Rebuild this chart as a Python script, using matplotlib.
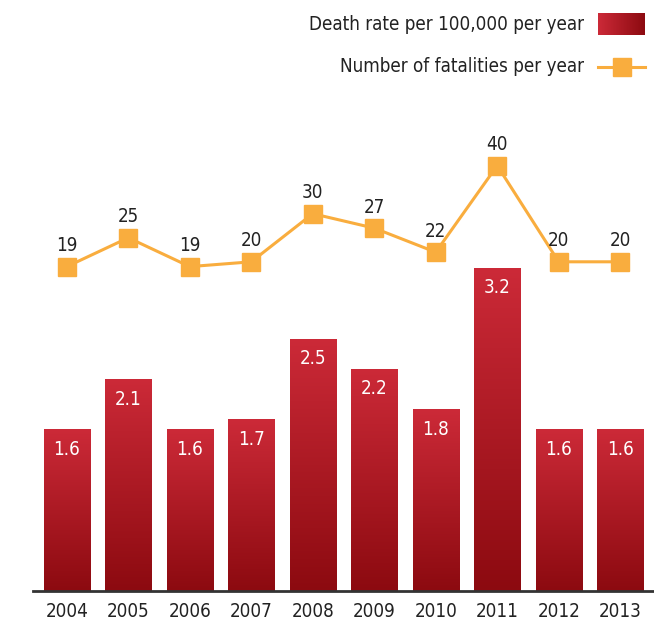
import numpy as np
import matplotlib
matplotlib.use("Agg")
import matplotlib.pyplot as plt
from matplotlib.colors import LinearSegmentedColormap
from matplotlib.lines import Line2D

years = ["2004", "2005", "2006", "2007", "2008", "2009", "2010", "2011", "2012", "2013"]
death_rate = [1.6, 2.1, 1.6, 1.7, 2.5, 2.2, 1.8, 3.2, 1.6, 1.6]
fatalities = [19, 25, 19, 20, 30, 27, 22, 40, 20, 20]

plt.rcParams['font.family'] = ['DejaVu Sans']
plt.rcParams['font.stretch'] = 'condensed'

W, H = 654, 620
fig = plt.figure(figsize=(W / 100, H / 100), dpi=100)

def fx(px): return px / W
def fy(py): return 1 - py / H

FS = 13.5
TXT = "#222222"
ORANGE = "#f9ad3e"

ax_left, ax_right = 33, 654
ax_top, ax_bottom = 100, 591
ax = fig.add_axes([fx(ax_left), fy(ax_bottom), fx(ax_right - ax_left), (ax_bottom - ax_top) / H])

cmap = LinearSegmentedColormap.from_list("red", ["#8c0a10", "#cc2a38"])
grad = np.linspace(0, 1, 256).reshape(-1, 1)

x = np.arange(len(years))
bw = 0.75
bars = ax.bar(x, death_rate, width=bw, color="none", edgecolor="none", zorder=2)
for b, v in zip(bars, death_rate):
    im = ax.imshow(grad, cmap=cmap, origin="lower", aspect="auto",
                   extent=[b.get_x(), b.get_x() + b.get_width(), 0, v], zorder=2)
    im.set_clip_path(b)
    ax.text(b.get_x() + b.get_width() / 2, v - 0.2, f"{v}", ha="center", va="center",
            color="white", fontsize=FS, zorder=4)

ax.set_xlim(-0.55, 9.55)
ax.set_ylim(0, (ax_bottom - ax_top) / 101.0)
ax.set_xticks(x)
ax.set_xticklabels(years, fontsize=FS, color=TXT)
ax.tick_params(axis="x", length=0, pad=8)
ax.set_yticks([])
for s in ["top", "right", "left"]:
    ax.spines[s].set_visible(False)
ax.spines["bottom"].set_color("#333333")
ax.spines["bottom"].set_linewidth(2)

ax2 = ax.twinx()
ppu = 4.81
zero_px = 358
ax2.set_ylim((zero_px - ax_bottom) / ppu, (zero_px - ax_top) / ppu)
ax2.plot(x, fatalities, color=ORANGE, lw=2.2, marker="s", markersize=12.5,
         markerfacecolor=ORANGE, markeredgecolor=ORANGE, zorder=3)
for xi, v in zip(x, fatalities):
    ax2.text(xi, v + 21 / ppu, f"{v}", ha="center", va="center", fontsize=FS, color=TXT)
ax2.set_yticks([])
for s in ["top", "right", "left", "bottom"]:
    ax2.spines[s].set_visible(False)
ax2.set_xlim(-0.55, 9.55)

# legend
fig.text(fx(584), fy(24), "Death rate per 100,000 per year", ha="right", va="center",
         fontsize=FS, color=TXT)
lax = fig.add_axes([fx(598), fy(35), fx(47), 22 / H])
lax.imshow(np.linspace(0, 1, 256).reshape(1, -1), cmap=LinearSegmentedColormap.from_list(
    "h", ["#cc2a38", "#8c0a10"]), aspect="auto")
lax.axis("off")

fig.text(fx(584), fy(67), "Number of fatalities per year", ha="right", va="center",
         fontsize=FS, color=TXT)
fig.add_artist(Line2D([fx(598), fx(645)], [fy(67), fy(67)], color=ORANGE, lw=2.2,
                      transform=fig.transFigure))
fig.add_artist(Line2D([fx(622)], [fy(67)], color=ORANGE, marker="s", markersize=12.5,
                      transform=fig.transFigure))

fig.savefig("out.png", dpi=100)
